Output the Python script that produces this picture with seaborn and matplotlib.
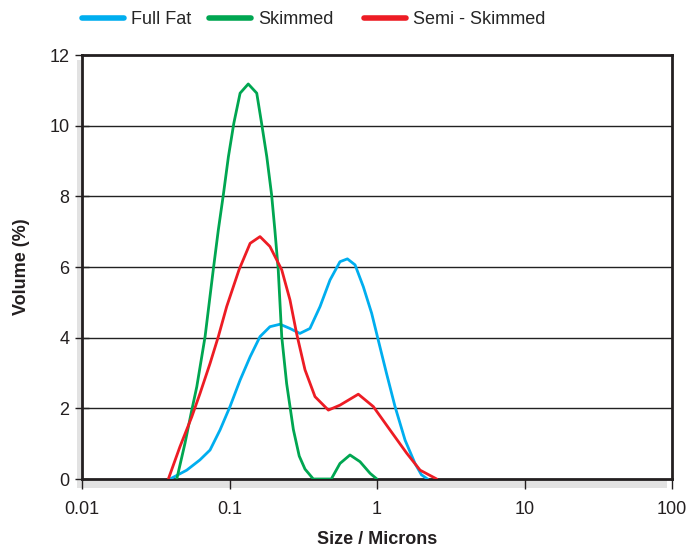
import matplotlib
matplotlib.use('Agg')
import matplotlib.pyplot as plt
import matplotlib.patches as mpatches
from matplotlib.lines import Line2D
import pandas as pd
import seaborn as sns

# ========================
# DATA
# ========================

full_fat_size = [0.0395, 0.0513, 0.063, 0.0738, 0.0863, 0.1008, 0.118, 0.138, 0.161, 0.188,
                 0.22, 0.257, 0.30, 0.351, 0.411, 0.48, 0.561, 0.63, 0.71, 0.808,
                 0.92, 1.02, 1.16, 1.325, 1.55, 1.81, 2.0, 2.2]
full_fat_vol = [0.0, 0.25, 0.54, 0.82, 1.39, 2.05, 2.8, 3.46, 4.03, 4.31,
                4.38, 4.26, 4.12, 4.26, 4.88, 5.63, 6.15, 6.23, 6.06, 5.44,
                4.69, 3.93, 2.99, 2.05, 1.1, 0.44, 0.12, 0.0]

skimmed_size = [0.0439, 0.0499, 0.0555, 0.06, 0.0683, 0.0776, 0.084, 0.0908, 0.0983, 0.107,
                0.118, 0.134, 0.153, 0.165, 0.179, 0.193, 0.203, 0.214, 0.226, 0.244,
                0.271, 0.297, 0.325, 0.37, 0.49, 0.561, 0.656, 0.767, 0.898, 0.998]
skimmed_vol = [0.0, 1.01, 1.95, 2.61, 4.03, 5.92, 7.05, 8.04, 9.12, 10.07,
               10.92, 11.18, 10.92, 10.07, 9.12, 8.04, 7.05, 5.92, 4.03, 2.7,
               1.4, 0.65, 0.28, 0.0, 0.0, 0.44, 0.68, 0.49, 0.16, 0.0]

semi_size = [0.0385, 0.0461, 0.0555, 0.0631, 0.0738, 0.084, 0.0957, 0.116, 0.138, 0.161,
             0.188, 0.226, 0.257, 0.285, 0.325, 0.38, 0.468, 0.561, 0.747, 0.944,
             1.224, 1.59, 1.96, 2.54]
semi_vol = [0.0, 0.91, 1.76, 2.42, 3.27, 4.03, 4.88, 5.92, 6.67, 6.86,
            6.58, 5.92, 5.07, 4.12, 3.09, 2.33, 1.95, 2.09, 2.4, 2.05,
            1.39, 0.73, 0.25, 0.0]

series_names = ['Full Fat', 'Skimmed', 'Semi - Skimmed']
series_colors = ['#00AEEF', '#00A651', '#ED1C24']

x_ticks = [0.01, 0.1, 1, 10, 100]
x_tick_labels = ['0.01', '0.1', '1', '10', '100']
y_ticks = [0, 2, 4, 6, 8, 10, 12]

df = pd.concat([
    pd.DataFrame({'size': full_fat_size, 'volume': full_fat_vol, 'milk': series_names[0]}),
    pd.DataFrame({'size': skimmed_size, 'volume': skimmed_vol, 'milk': series_names[1]}),
    pd.DataFrame({'size': semi_size, 'volume': semi_vol, 'milk': series_names[2]}),
])

# ========================
# PLOT
# ========================

sns.set_style('white')
plt.rcParams['font.family'] = ['Liberation Sans', 'DejaVu Sans']

fig = plt.figure(figsize=(6.86, 5.48), dpi=100)
W, H = 686.0, 548.0
ax_left, ax_right, ax_top, ax_bottom = 82, 672, 55, 479

# grey drop shadow behind the plot frame
shadow = mpatches.Rectangle((77 / W, 1 - 488 / H), (667 - 77) / W, (488 - 60) / H,
                            transform=fig.transFigure, facecolor='#E2E2E2',
                            edgecolor='none', zorder=0)
fig.patches.append(shadow)

ax = fig.add_axes([ax_left / W, 1 - ax_bottom / H,
                   (ax_right - ax_left) / W, (ax_bottom - ax_top) / H])
ax.set_zorder(1)

for y in y_ticks[1:-1]:
    ax.axhline(y, color='#222222', lw=1.0, zorder=1)

sns.lineplot(data=df, x='size', y='volume', hue='milk', hue_order=series_names,
             palette=series_colors, linewidth=2.0, sort=False, estimator=None,
             legend=False, ax=ax, zorder=3)
for line in ax.get_lines():
    line.set_solid_joinstyle('round')

ax.set_xscale('log')
ax.set_xlim(0.01, 100)
ax.set_ylim(0, 12)
ax.set_xticks(x_ticks)
ax.set_xticklabels(x_tick_labels)
ax.minorticks_off()
ax.set_yticks(y_ticks)

for sp in ax.spines.values():
    sp.set_visible(True)
    sp.set_color('#231F20')
    sp.set_linewidth(2.0)

ax.tick_params(axis='y', direction='inout', length=10, width=1, color='#231F20',
               labelsize=13, pad=4, left=True, labelcolor='#231F20')
ax.tick_params(axis='x', direction='out', length=7, width=1, color='#231F20',
               labelsize=13, pad=9, bottom=True, labelcolor='#231F20')

ax.set_xlabel('Size / Microns', fontsize=13, fontweight='bold', color='#231F20')
ax.set_ylabel('Volume (%)', fontsize=13, fontweight='bold', color='#231F20')
ax.xaxis.set_label_coords(0.5, -(540 - ax_bottom) / (ax_bottom - ax_top))
ax.xaxis.label.set_va('center')
ax.yaxis.set_label_coords(-(ax_left - 22) / (ax_right - ax_left), 0.5)
ax.yaxis.label.set_va('center')

# legend across the top
h1 = [Line2D([], [], color=series_colors[0], lw=4.0),
      Line2D([], [], color=series_colors[1], lw=4.0)]
h2 = [Line2D([], [], color=series_colors[2], lw=4.0)]
fig.legend(h1, series_names[:2], loc='center left', ncol=2,
           bbox_to_anchor=(82 / W, 1 - 20 / H), frameon=False, fontsize=13,
           handlelength=2.3, handletextpad=0.4, columnspacing=1.0,
           borderaxespad=0, borderpad=0)
fig.legend(h2, series_names[2:], loc='center left',
           bbox_to_anchor=(364 / W, 1 - 20 / H), frameon=False, fontsize=13,
           handlelength=2.3, handletextpad=0.4, borderaxespad=0, borderpad=0)

fig.savefig('out.png', dpi=100)
plt.close(fig)
